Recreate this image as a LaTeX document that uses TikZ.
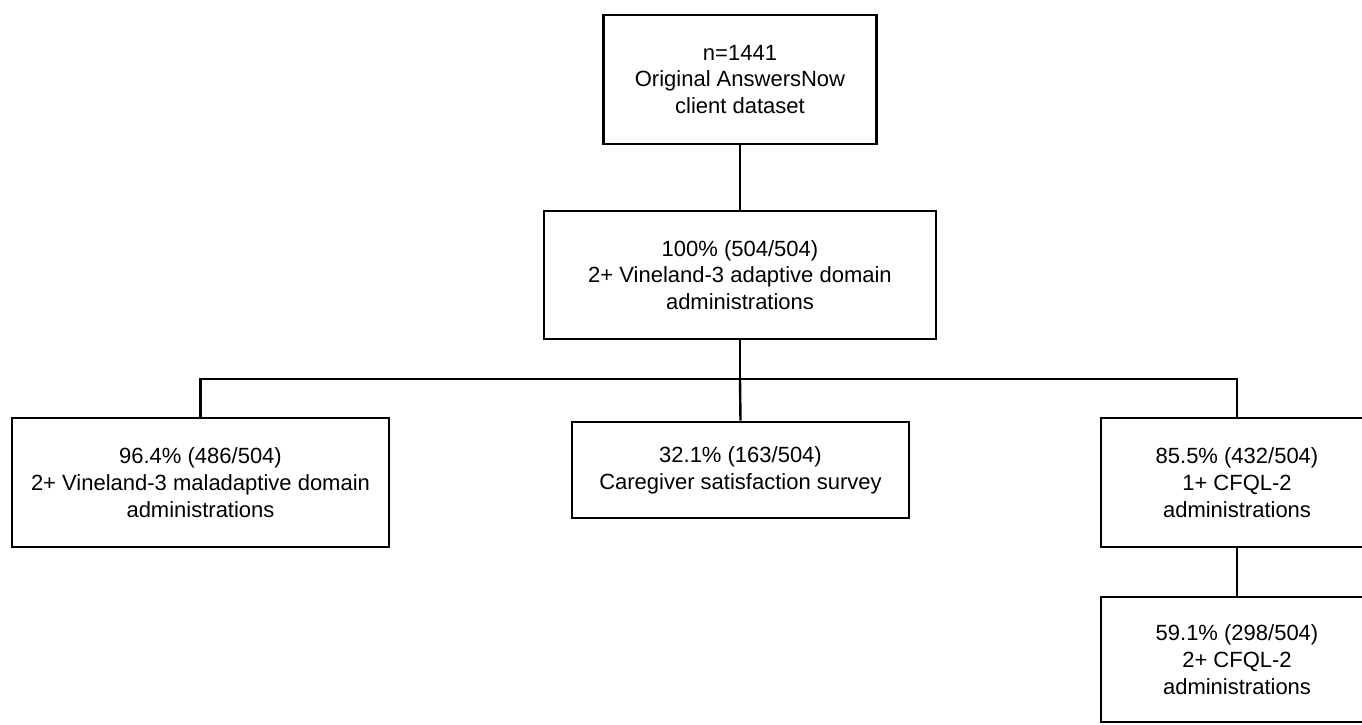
\documentclass[tikz,border=0pt]{standalone}
\usepackage{fontspec}
\setmainfont{Liberation Sans}
\begin{document}
\begin{tikzpicture}[x=1pt,y=-1pt]
  % Parameters
  \def\boxline{2.6pt}
  \def\linkline{2.4pt}
  \def\splitY{379}

  % Styles
  \tikzset{
    flowbox/.style={draw, line width=\boxline, align=center, inner sep=0pt,
      font=\fontsize{22}{26.7}\selectfont},
    link/.style={line width=\linkline}
  }

  % Page frame
  \clip (0,0) rectangle (1362,724);
  \useasboundingbox (0,0) rectangle (1362,724);

  % Boxes
  \node[flowbox, minimum width=273pt, minimum height=129pt] (orig) at (740,79.5)
    {n=1441\\Original AnswersNow\\client dataset};
  \node[flowbox, minimum width=392pt, minimum height=128pt] (adapt) at (740,275)
    {100\% (504/504)\\2+ Vineland-3 adaptive domain\\administrations};
  \node[flowbox, minimum width=377pt, minimum height=129pt] (malad) at (200.5,482.5)
    {96.4\% (486/504)\\2+ Vineland-3 maladaptive domain\\administrations};
  \node[flowbox, minimum width=337pt, minimum height=96pt] (survey) at (740.5,470)
    {32.1\% (163/504)\\Caregiver satisfaction survey};
  \node[flowbox, minimum width=272pt, minimum height=129pt] (cfqlone) at (1237,482.5)
    {85.5\% (432/504)\\1+ CFQL-2\\administrations};
  \node[flowbox, minimum width=272pt, minimum height=125pt] (cfqltwo) at (1237,659.5)
    {59.1\% (298/504)\\2+ CFQL-2\\administrations};

  % Split point under the adaptive box
  \coordinate (split) at (740,\splitY);

  % Connectors
  \draw[link] (orig.south) -- (adapt.north);
  \draw[link] (adapt.south) -- (split);
  \draw[link] (split) -| (malad.north);
  \draw[link] (split) -- (survey.north);
  \draw[link] (split) -| (cfqlone.north);
  \draw[link] (cfqlone.south) -- (cfqltwo.north);

\end{tikzpicture}
\end{document}
